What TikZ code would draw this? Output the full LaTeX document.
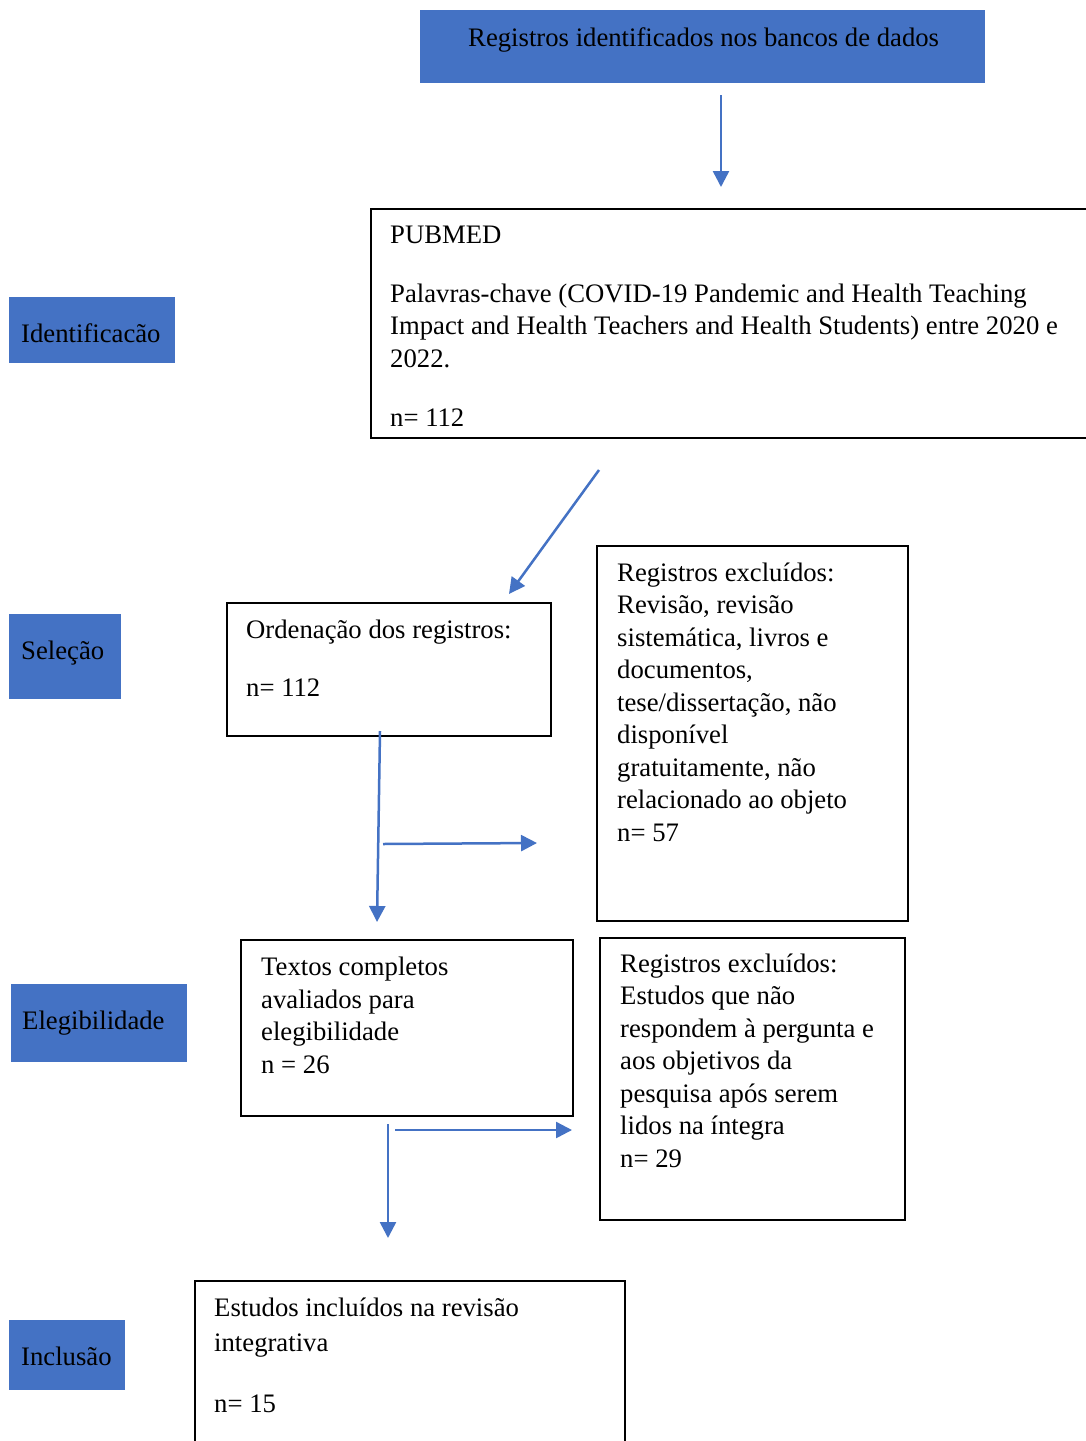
\documentclass[tikz,border=0pt]{standalone}
\usepackage{fontspec}
\setmainfont{Liberation Serif}
\usetikzlibrary{arrows.meta}
\definecolor{wblue}{HTML}{4472C4}
\begin{document}
\begin{tikzpicture}[x=1pt,y=-1pt,
 bluebox/.style={fill=wblue, draw=none, inner sep=0pt, anchor=north west},
 whitebox/.style={draw=black, line width=2pt, inner sep=0pt, anchor=north west},
 txt/.style={anchor=base west, inner sep=0pt, align=left, font=\fontsize{26.7}{32.5}\selectfont},
 arr/.style={draw=wblue, line width=2.5pt, -{Triangle[length=16pt,width=16pt]}}]
\useasboundingbox (0,0) rectangle (1086,1441);
\fill[white] (0,0) rectangle (1086,1441);

% blue boxes
\node[bluebox, minimum width=565pt, minimum height=73pt] (top) at (420,10) {};
\node[txt] (toptxt) at (468,46) {Registros identificados nos bancos de dados};

\node[bluebox, minimum width=166pt, minimum height=66pt] (ident) at (9,297) {};
\node[txt] (identtxt) at (21,342) {Identificacão};

\node[bluebox, minimum width=112pt, minimum height=85pt] (sel) at (9,614) {};
\node[txt] (seltxt) at (21,659) {Seleção};

\node[bluebox, minimum width=176pt, minimum height=78pt] (eleg) at (11,984) {};
\node[txt] (elegtxt) at (22,1029) {Elegibilidade};

\node[bluebox, minimum width=116pt, minimum height=70pt] (incl) at (9,1320) {};
\node[txt] (incltxt) at (21,1365) {Inclusão};

% white boxes (text nodes anchored at the baseline of their last line)
\node[whitebox, minimum width=724pt, minimum height=229pt] (pub) at (370,208) {};
\node[txt] (pubtxt) at (390,426) {PUBMED\\[26.5pt]
Palavras-chave (COVID-19 Pandemic and Health Teaching\\
Impact and Health Teachers and Health Students) entre 2020 e\\
2022.\\[26.5pt]
n= 112};

\node[whitebox, minimum width=324pt, minimum height=133pt] (ord) at (226,602) {};
\node[txt] (ordtxt) at (246,696) {Ordenação dos registros:\\[25.5pt]
n= 112};

\node[whitebox, minimum width=311pt, minimum height=375pt] (exc1) at (596,545) {};
\node[txt] (exc1txt) at (617,841) {Registros excluídos:\\
Revisão, revisão\\
sistemática, livros e\\
documentos,\\
tese/dissertação, não\\
disponível\\
gratuitamente, não\\
relacionado ao objeto\\
n= 57};

\node[whitebox, minimum width=332pt, minimum height=176pt] (txc) at (240,939) {};
\node[txt] (txctxt) at (261,1073) {Textos completos\\
avaliados para\\
elegibilidade\\
n = 26};

\node[whitebox, minimum width=305pt, minimum height=282pt] (exc2) at (599,937) {};
\node[txt] (exc2txt) at (620,1167) {Registros excluídos:\\
Estudos que não\\
respondem à pergunta e\\
aos objetivos da\\
pesquisa após serem\\
lidos na íntegra\\
n= 29};

\node[whitebox, minimum width=430pt, minimum height=175pt] (inc) at (194,1280) {};
\node[txt, font=\fontsize{26.7}{35}\selectfont] (inctxt) at (214,1412) {Estudos incluídos na revisão\\
integrativa\\[26pt]
n= 15};

% arrows
\coordinate (a1s) at (721,95);  \coordinate (a1e) at (721,187);
\coordinate (a2s) at (599,470); \coordinate (a2e) at (509,594);
\coordinate (a3s) at (380,731); \coordinate (a3e) at (377,922);
\coordinate (a4s) at (383,844); \coordinate (a4e) at (537,843);
\coordinate (a5s) at (388,1124); \coordinate (a5e) at (388,1238);
\coordinate (a6s) at (395,1130); \coordinate (a6e) at (572,1130);
\draw[arr] (a1s) -- (a1e);
\draw[arr] (a2s) -- (a2e);
\draw[arr] (a3s) -- (a3e);
\draw[arr] (a4s) -- (a4e);
\draw[arr] (a5s) -- (a5e);
\draw[arr] (a6s) -- (a6e);
\end{tikzpicture}
\end{document}
